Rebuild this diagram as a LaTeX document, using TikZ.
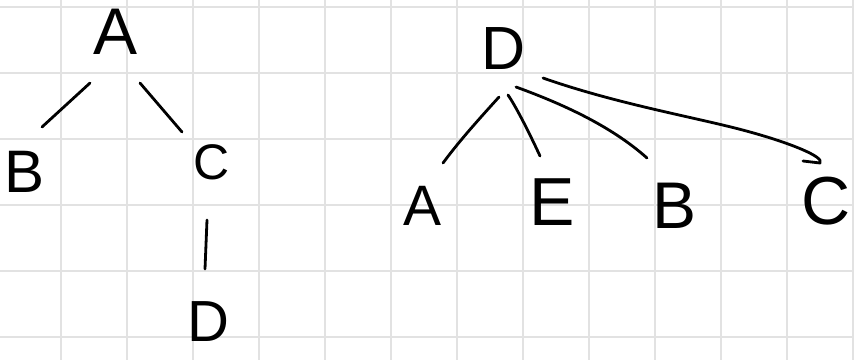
\documentclass[tikz,border=0pt]{standalone}
\usepackage{fontspec}
\setmainfont{Liberation Sans}
\definecolor{gridgray}{HTML}{E2E2E2}
\tikzset{
  gridline/.style={draw=gridgray, line width=2pt},
  letter/.style={inner sep=0pt, font=\fontsize{#1}{#1}\selectfont},
  letter/.default=60,
  stroke/.style={draw=black, line width=2.8pt, line cap=round, line join=round}
}
\begin{document}
\begin{tikzpicture}[x=1pt,y=-1pt]
\useasboundingbox (0,0) rectangle (854,360);
\fill[white] (0,0) rectangle (854,360);
% grid paper
\foreach \k in {0,...,12} \draw[gridline] (61+66*\k,0) -- (61+66*\k,360);
\foreach \k in {0,...,5} \draw[gridline] (0,7.3+66*\k) -- (854,7.3+66*\k);
% left tree
\node[letter=66] (lA) at (116,32) {A};
\node[letter=60] (lB) at (25,172) {B};
\node[letter=50] (lC) at (212,162) {C};
\node[letter=58] (lD) at (208,322) {D};
\draw[stroke] ([shift={(-26,51)}]lA.center) -- ([shift={(17,-45)}]lB.center);
\draw[stroke] ([shift={(24,51)}]lA.center) -- ([shift={(-30,-30)}]lC.center);
\draw[stroke] ([shift={(-5,58)}]lC.center) -- ([shift={(-3,-53)}]lD.center);
% right tree
\node[letter=61] (rD) at (504,49) {D};
\node[letter=57] (rA) at (423,206) {A};
\node[letter=68] (rE) at (552,202) {E};
\node[letter=66] (rB) at (675,206) {B};
\node[letter=68] (rC) at (826,201) {C};
\draw[stroke] ([shift={(-5,48)}]rD.center) .. controls (480,118) and (460,140) .. ([shift={(20,-43)}]rA.center);
\draw[stroke] ([shift={(4,46)}]rD.center) .. controls (515,105) and (528,130) .. ([shift={(-12,-46)}]rE.center);
\draw[stroke] ([shift={(12,38)}]rD.center) .. controls (560,103) and (610,125) .. ([shift={(-28,-48)}]rB.center);
\draw[stroke] ([shift={(39,29)}]rD.center) .. controls (620,105) and (700,118) .. (750,132) .. controls (790,143) and (825,157) .. (820,163) -- ([shift={(-23,-40)}]rC.center);
\end{tikzpicture}
\end{document}
